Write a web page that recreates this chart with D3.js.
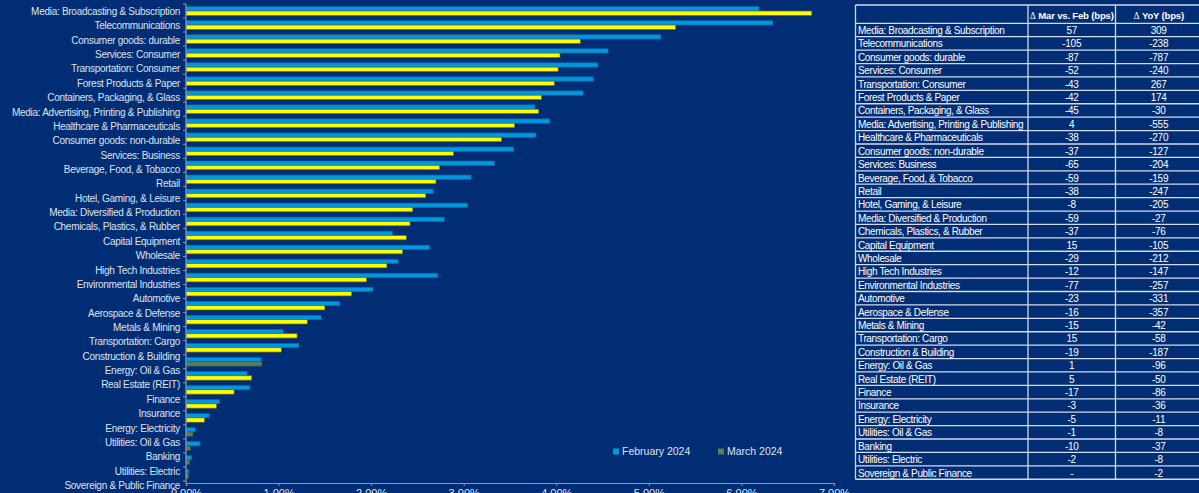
<!DOCTYPE html>
<html>
<head>
<meta charset="utf-8">
<script src="https://cdn.jsdelivr.net/npm/d3@7"></script>
<style>
  html, body { margin: 0; padding: 0; background: #012d74; overflow: hidden; }
  svg { display: block; font-family: Arial, "Liberation Sans", sans-serif; }
</style>
</head>
<body>
<svg id="chart" width="1199" height="493"></svg>
<script>
const categories = [
  "Media: Broadcasting & Subscription", "Telecommunications", "Consumer goods: durable",
  "Services: Consumer", "Transportation: Consumer", "Forest Products & Paper",
  "Containers, Packaging, & Glass", "Media: Advertising, Printing & Publishing",
  "Healthcare & Pharmaceuticals", "Consumer goods: non-durable", "Services: Business",
  "Beverage, Food, & Tobacco", "Retail", "Hotel, Gaming, & Leisure",
  "Media: Diversified & Production", "Chemicals, Plastics, & Rubber", "Capital Equipment",
  "Wholesale", "High Tech Industries", "Environmental Industries", "Automotive",
  "Aerospace & Defense", "Metals & Mining", "Transportation: Cargo",
  "Construction & Building", "Energy: Oil & Gas", "Real Estate (REIT)", "Finance",
  "Insurance", "Energy: Electricity", "Utilities: Oil & Gas", "Banking",
  "Utilities: Electric", "Sovereign & Public Finance"
];
const february2024 = [6.19, 6.34, 5.13, 4.56, 4.45, 4.40, 4.29, 3.77, 3.93, 3.78, 3.54, 3.33,
  3.08, 2.67, 3.04, 2.79, 2.23, 2.63, 2.29, 2.72, 2.02, 1.66, 1.46, 1.05, 1.22, 0.81, 0.66,
  0.69, 0.36, 0.25, 0.10, 0.15, 0.06, 0.03];
const march2024 = [6.76, 5.29, 4.26, 4.04, 4.02, 3.98, 3.84, 3.81, 3.55, 3.41, 2.89, 2.74,
  2.70, 2.59, 2.45, 2.42, 2.38, 2.34, 2.17, 1.95, 1.79, 1.50, 1.31, 1.20, 1.03, 0.82, 0.71,
  0.52, 0.33, 0.20, 0.075, 0.05, 0.04, 0.03];
// categories whose March bar is drawn in the plain (green) series colour
const marchPlain = ["Energy: Oil & Gas", "Utilities: Oil & Gas", "Banking", "Utilities: Electric", "Sovereign & Public Finance"];
const xTicks = [0, 1, 2, 3, 4, 5, 6, 7];
const seriesNames = ["February 2024", "March 2024"];
const tableHeader = ["", "\u0394 Mar vs. Feb (bps)", "\u0394 YoY (bps)"];
const deltaMoM = ["57", "-105", "-87", "-52", "-43", "-42", "-45", "4", "-38", "-37", "-65", "-59",
  "-38", "-8", "-59", "-37", "15", "-29", "-12", "-77", "-23", "-16", "-15", "15", "-19", "1", "5",
  "-17", "-3", "-5", "-1", "-10", "-2", "-"];
const deltaYoY = ["309", "-238", "-787", "-240", "267", "174", "-30", "-555", "-270", "-127", "-204",
  "-159", "-247", "-205", "-27", "-76", "-105", "-212", "-147", "-257", "-331", "-357", "-42", "-58",
  "-187", "-96", "-50", "-86", "-36", "-11", "-8", "-37", "-8", "-2"];

const BG = "#012d74";
const BLUE = "#0098da", BLUE_EDGE = "#0a64a8";
const YELLOW = "#ffff00", YELLOW_EDGE = "#6d6d2a";
const GREEN = "#5b7d5c", GREEN_EDGE = "#3f5a44";
const AXIS = "#8c96b0";
const LABEL = "#dfe4f0";

const svg = d3.select("#chart");
svg.append("rect").attr("width", 1199).attr("height", 493).attr("fill", BG);

// ---- chart ----
const x0 = 186, axisY = 483;
const x = d3.scaleLinear().domain([0, 7]).range([x0, 834]);
const y = d3.scaleBand().domain(categories).range([4, 481]).paddingInner(0.38).paddingOuter(0.19);
const ySeries = d3.scaleBand().domain(seriesNames).range([0, y.bandwidth()]);
const yLabel = d3.scalePoint().domain(categories).range([11.5, 485.5]);

const rows = categories.map((c, i) => ({ c, feb: february2024[i], mar: march2024[i] }));

const g = svg.append("g");
const pair = g.selectAll("g.pair").data(rows).join("g").attr("class", "pair")
  .attr("transform", d => `translate(0,${y(d.c)})`);
pair.append("rect")
  .attr("x", x(0)).attr("y", ySeries(seriesNames[0]))
  .attr("width", d => x(d.feb) - x(0)).attr("height", ySeries.bandwidth())
  .attr("fill", BLUE).attr("stroke", BLUE_EDGE).attr("stroke-width", 0.7);
pair.append("rect")
  .attr("x", x(0)).attr("y", ySeries(seriesNames[1]))
  .attr("width", d => x(d.mar) - x(0)).attr("height", ySeries.bandwidth())
  .attr("fill", d => marchPlain.includes(d.c) ? GREEN : YELLOW)
  .attr("stroke", d => marchPlain.includes(d.c) ? GREEN_EDGE : YELLOW_EDGE).attr("stroke-width", 0.7);

// y axis line + ticks at band boundaries
const yAxisG = svg.append("g");
yAxisG.append("line").attr("x1", x0).attr("x2", x0).attr("y1", 4).attr("y2", axisY)
  .attr("stroke", AXIS).attr("stroke-width", 1.2);
yAxisG.selectAll("line.tk").data(d3.range(categories.length + 1)).join("line")
  .attr("class", "tk")
  .attr("x1", x0 - 3).attr("x2", x0)
  .attr("y1", i => 4 + i * (477 / categories.length))
  .attr("y2", i => 4 + i * (477 / categories.length))
  .attr("stroke", AXIS).attr("stroke-width", 1);

// category labels
svg.append("g").selectAll("text").data(categories).join("text")
  .attr("x", 180).attr("y", d => yLabel(d)).attr("dy", "0.35em")
  .attr("text-anchor", "end").attr("font-size", 10).attr("letter-spacing", "-0.28px")
  .attr("fill", LABEL)
  .text(d => d);

// x axis
const xAxis = d3.axisBottom(x).tickValues(xTicks).tickSize(3).tickPadding(3)
  .tickFormat(d => d.toFixed(2) + "%");
const xg = svg.append("g").attr("transform", `translate(0,${axisY})`).call(xAxis);
xg.select(".domain").attr("stroke", AXIS).attr("stroke-width", 1.2);
xg.selectAll(".tick line").attr("stroke", AXIS);
xg.selectAll(".tick text").attr("fill", LABEL).attr("font-size", 11)
  .attr("font-family", "Arial, 'Liberation Sans', sans-serif");

// legend
const legend = svg.append("g");
const legendItems = [
  { name: seriesNames[0], color: BLUE, x: 613 },
  { name: seriesNames[1], color: GREEN, x: 718 }
];
legendItems.forEach(it => {
  legend.append("rect").attr("x", it.x).attr("y", 448.5).attr("width", 6).attr("height", 6).attr("fill", it.color);
  legend.append("text").attr("x", it.x + 9).attr("y", 451.5).attr("dy", "0.35em")
    .attr("font-size", 10.5).attr("fill", LABEL).text(it.name);
});

// ---- table ----
const tX = [855.5, 1028, 1115.5, 1202];
const tTop = 5, headerH = 18.3, rowH = 13.41;
const tg = svg.append("g");
const TBORDER = "#d4dae8";
const nRows = categories.length;
const tBottom = tTop + headerH + nRows * rowH;
const hLines = [tTop].concat(d3.range(nRows + 1).map(i => tTop + headerH + i * rowH));
tg.selectAll("line.h").data(hLines).join("line").attr("class", "h")
  .attr("x1", tX[0]).attr("x2", tX[3]).attr("y1", d => d).attr("y2", d => d)
  .attr("stroke", TBORDER).attr("stroke-width", 1.3);
tg.selectAll("line.v").data(tX).join("line").attr("class", "v")
  .attr("x1", d => d).attr("x2", d => d).attr("y1", tTop).attr("y2", tBottom)
  .attr("stroke", TBORDER).attr("stroke-width", 1.3);
// header
[1, 2].forEach(j => {
  const t = tg.append("text").attr("x", (tX[j] + tX[j + 1]) / 2).attr("y", tTop + headerH / 2 + 1)
    .attr("dy", "0.35em").attr("text-anchor", "middle").attr("font-size", 9.6)
    .attr("letter-spacing", "-0.2px").attr("fill", "#ffffff");
  const txt = tableHeader[j];
  t.append("tspan").attr("font-family", "'DejaVu Serif', serif").attr("font-size", 8.5).text(txt[0]);
  t.append("tspan").attr("font-weight", "bold").text(txt.slice(1));
});
const tRows = categories.map((c, i) => ({ c, m: deltaMoM[i], yy: deltaYoY[i], i }));
const trg = tg.selectAll("g.tr").data(tRows).join("g").attr("class", "tr")
  .attr("transform", d => `translate(0,${tTop + headerH + d.i * rowH + rowH / 2 + 0.5})`);
trg.append("text").attr("x", tX[0] + 2.5).attr("dy", "0.35em").attr("font-size", 10)
  .attr("letter-spacing", "-0.35px").attr("fill", "#ffffff").text(d => d.c);
trg.append("text").attr("x", (tX[1] + tX[2]) / 2).attr("dy", "0.35em").attr("text-anchor", "middle")
  .attr("font-size", 10).attr("letter-spacing", "-0.3px").attr("fill", "#ffffff").text(d => d.m);
trg.append("text").attr("x", (tX[2] + tX[3]) / 2).attr("dy", "0.35em").attr("text-anchor", "middle")
  .attr("font-size", 10).attr("letter-spacing", "-0.3px").attr("fill", "#ffffff").text(d => d.yy);
</script>
</body>
</html>
